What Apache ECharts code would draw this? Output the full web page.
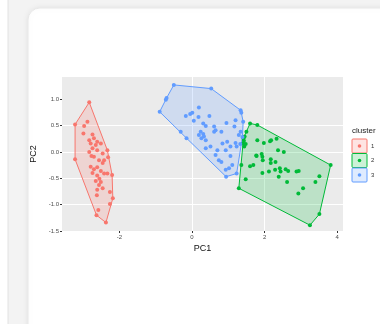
<!DOCTYPE html>
<html>
<head>
<meta charset="utf-8">
<script src="https://cdn.jsdelivr.net/npm/echarts@6/dist/echarts.min.js"></script>
<style>
  html, body { margin: 0; padding: 0; background: #f3f3f3; }
  #chart { width: 380px; height: 324px; }
</style>
</head>
<body>
<div id="chart"></div>
<script>
// PCA scores per k-means cluster
const cluster1 = [
  [-2.83, 0.94], [-3.22, 0.52], [-3.22, -0.14], [-2.37, -1.34], [-2.63, -1.20],
  [-2.18, -0.88], [-2.20, -0.44], [-2.33, 0.03], [-2.97, 0.49], [-2.88, 0.57],
  [-2.99, 0.35], [-2.74, 0.33], [-2.83, 0.22], [-2.70, 0.26], [-2.61, 0.19],
  [-2.79, 0.16], [-2.65, 0.13], [-2.51, 0.16], [-2.74, 0.07], [-2.61, 0.03],
  [-2.83, 0.00], [-2.46, -0.03], [-2.70, -0.09], [-2.56, -0.16], [-2.42, -0.16],
  [-2.31, -0.10], [-2.79, -0.28], [-2.61, -0.29], [-2.70, -0.33], [-2.51, -0.36],
  [-2.74, -0.40], [-2.42, -0.41], [-2.61, -0.45], [-2.55, -0.51], [-2.65, -0.55],
  [-2.51, -0.57], [-2.33, -0.41], [-2.56, -0.63], [-2.61, -0.72], [-2.46, -0.69],
  [-2.26, -0.76], [-2.62, -0.82], [-2.26, -0.99], [-2.58, -1.10], [-2.46, -0.21],
  [-2.77, -0.08]
];
const cluster2 = [
  [1.60, 0.54], [1.80, 0.51], [3.82, -0.25], [3.51, -1.18], [3.25, -1.39],
  [1.29, -0.69], [1.36, -0.25], [1.41, 0.16], [1.50, 0.38], [1.45, 0.29],
  [1.43, 0.21], [1.48, 0.15], [1.98, 0.17], [2.15, 0.20], [2.18, 0.22],
  [2.33, 0.25], [1.80, 0.22], [1.78, -0.08], [1.92, -0.04], [1.94, -0.09],
  [1.95, -0.16], [2.17, -0.14], [2.17, -0.21], [2.30, -0.19], [2.37, 0.03],
  [2.53, 0.00], [1.60, -0.27], [1.69, -0.25], [1.94, -0.40], [2.12, -0.37],
  [2.29, -0.34], [2.42, -0.31], [2.44, -0.37], [2.39, -0.47], [2.58, -0.33],
  [2.65, -0.36], [2.88, -0.37], [2.94, -0.36], [1.48, -0.52], [2.62, -0.57],
  [3.06, -0.69], [2.93, -0.79], [3.40, -0.57], [3.51, -0.46], [1.77, -0.07],
  [1.42, 0.26], [1.44, 0.10]
];
const cluster3 = [
  [-0.50, 1.27], [0.53, 1.20], [1.34, 0.79], [1.36, 0.74], [1.41, 0.57],
  [1.23, -0.41], [0.94, -0.47], [-0.15, 0.26], [-0.31, 0.38], [-0.89, 0.76],
  [-0.72, 0.99], [-0.70, 1.02], [-0.17, 0.68], [-0.05, 0.72], [0.01, 0.74],
  [0.19, 0.84], [0.05, 0.59], [0.18, 0.66], [0.48, 0.68], [0.31, 0.54],
  [0.38, 0.49], [0.61, 0.48], [0.95, 0.55], [1.20, 0.60], [0.24, 0.38],
  [0.31, 0.34], [0.19, 0.32], [0.33, 0.29], [0.26, 0.26], [0.38, 0.22],
  [0.61, 0.38], [0.65, 0.41], [0.81, 0.38], [1.17, 0.48], [1.34, 0.38],
  [1.29, 0.32], [0.51, 0.10], [0.84, 0.16], [0.97, 0.19], [1.06, 0.10],
  [0.93, 0.03], [1.20, 0.17], [1.23, 0.10], [0.38, 0.07], [0.70, 0.03],
  [0.65, -0.06], [0.74, -0.16], [0.81, -0.19], [1.06, -0.08], [1.11, -0.25],
  [0.93, -0.34], [1.02, -0.31], [1.39, 0.28], [1.33, 0.15]
];
const clusterNames = ['1', '2', '3'];
const xTicks = [-2, 0, 2, 4];
const yTicks = [-1.5, -1.0, -0.5, 0.0, 0.5, 1.0];

const clusters = [cluster1, cluster2, cluster3];
const colors = ['#F8766D', '#00BA38', '#619CFF'];
const fills = ['rgba(248,118,109,0.2)', 'rgba(0,186,56,0.2)', 'rgba(97,156,255,0.2)'];

// convex hull (monotone chain), done in data space
function hull(points) {
  const p = points.slice().sort((a, b) => a[0] - b[0] || a[1] - b[1]);
  const cross = (o, a, b) => (a[0] - o[0]) * (b[1] - o[1]) - (a[1] - o[1]) * (b[0] - o[0]);
  const lower = [];
  for (const pt of p) {
    while (lower.length >= 2 && cross(lower[lower.length - 2], lower[lower.length - 1], pt) <= 0) lower.pop();
    lower.push(pt);
  }
  const upper = [];
  for (let i = p.length - 1; i >= 0; i--) {
    const pt = p[i];
    while (upper.length >= 2 && cross(upper[upper.length - 2], upper[upper.length - 1], pt) <= 0) upper.pop();
    upper.push(pt);
  }
  upper.pop();
  lower.pop();
  return lower.concat(upper);
}

const chart = echarts.init(document.getElementById('chart'));
const font = 'Liberation Sans, Arial, sans-serif';

// legend drawn as plain graphic pieces (ggplot-style keys)
const legendItems = [];
clusterNames.forEach((name, i) => {
  const y = 139 + i * 14.5;
  legendItems.push(
    { type: 'rect', shape: { x: 352, y: y, width: 15, height: 14, r: 1 },
      style: { fill: fills[i], stroke: colors[i], lineWidth: 1 } },
    { type: 'circle', shape: { cx: 359.5, cy: y + 7, r: 1.8 }, style: { fill: colors[i] } },
    { type: 'text', x: 371, y: y + 7,
      style: { text: name, font: '6px ' + font, fill: '#333', textVerticalAlign: 'middle' } }
  );
});

const option = {
  backgroundColor: 'transparent',
  animation: false,
  graphic: [
    { type: 'rect', z: -10, shape: { x: -30, y: -30, width: 38, height: 400, r: 10 },
      style: { fill: '#fff', stroke: '#e2e2e2', lineWidth: 1 } },
    { type: 'rect', z: -10, shape: { x: 28, y: 8, width: 380, height: 360, r: 12 },
      style: { fill: '#fff', stroke: '#e8e8e8', lineWidth: 1,
               shadowBlur: 6, shadowColor: 'rgba(0,0,0,0.08)' } },
    { type: 'text', x: 352, y: 127,
      style: { text: 'cluster', font: '8px ' + font, fill: '#222' } },
    ...legendItems
  ],
  grid: {
    left: 62, right: 37, top: 77, bottom: 93,
    show: true, backgroundColor: '#EBEBEB', borderWidth: 0
  },
  xAxis: {
    type: 'value',
    min: -3.58, max: 4.16,
    splitNumber: 8,
    name: 'PC1', nameLocation: 'middle', nameGap: 13,
    nameTextStyle: { fontFamily: font, fontSize: 9, color: '#111' },
    axisLine: { show: false, onZero: false },
    axisTick: { show: true, customValues: xTicks, length: 2, lineStyle: { color: '#333' } },
    axisLabel: { customValues: xTicks, fontFamily: font, fontSize: 6, color: '#4D4D4D', margin: 3 },
    splitLine: { show: true, showMinLine: false, showMaxLine: false,
                 lineStyle: { color: '#ffffff', width: 1 } }
  },
  yAxis: {
    type: 'value',
    min: -1.5, max: 1.42,
    interval: 0.25,
    name: 'PC2', nameLocation: 'middle', nameGap: 16,
    nameTextStyle: { fontFamily: font, fontSize: 9, color: '#111' },
    axisLine: { show: false, onZero: false },
    axisTick: { show: true, customValues: yTicks, length: 2, lineStyle: { color: '#333' } },
    axisLabel: { customValues: yTicks, fontFamily: font, fontSize: 6, color: '#4D4D4D', margin: 3,
                 formatter: (v) => v.toFixed(1) },
    splitLine: { show: true, showMinLine: false, showMaxLine: false,
                 lineStyle: { color: '#ffffff', width: 1 } }
  },
  series: [
    {
      type: 'custom',
      name: 'hulls',
      silent: true,
      z: 1,
      data: clusters.map((c, i) => [i, 0]),
      renderItem: (params, api) => {
        const i = params.dataIndex;
        const pts = hull(clusters[i]).map((p) => api.coord(p));
        return {
          type: 'polygon',
          shape: { points: pts },
          style: { fill: fills[i], stroke: colors[i], lineWidth: 1 }
        };
      }
    },
    ...clusters.map((c, i) => ({
      type: 'scatter',
      name: clusterNames[i],
      z: 2,
      symbolSize: 4,
      data: c,
      itemStyle: { color: colors[i], opacity: 1 }
    }))
  ]
};

chart.setOption(option);
</script>
</body>
</html>
